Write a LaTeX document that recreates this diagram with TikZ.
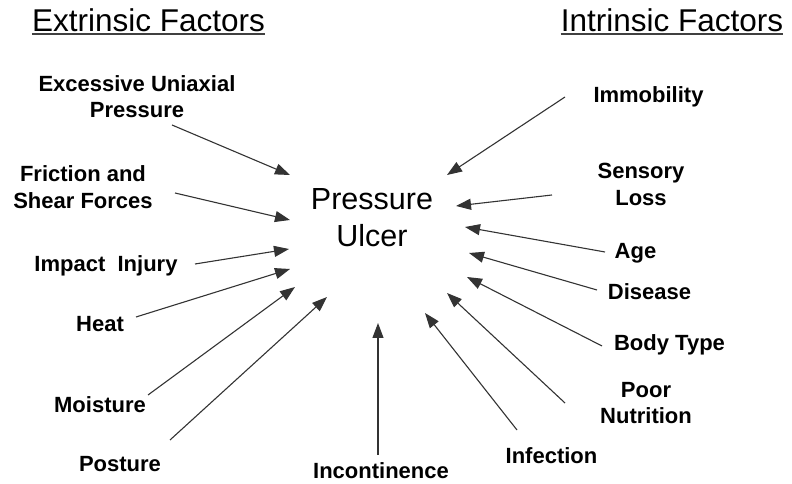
\documentclass[tikz,border=0pt]{standalone}
\usepackage{fontspec}
\setmainfont{Liberation Sans}
\usetikzlibrary{arrows.meta}

\tikzset{
	headline/.style={font=\fontsize{31.5}{36}\selectfont, inner sep=0pt},
	factor/.style={font=\fontsize{22}{26.5}\selectfont\bfseries, align=center, inner sep=0pt},
	ulcer/.style={font=\fontsize{30.5}{37}\selectfont, align=center, inner sep=0pt},
	cause/.style={-{Triangle[length=15pt,width=11pt]}, line width=1.1pt, black!80},
}

\begin{document}
\begin{tikzpicture}[x=1pt,y=1pt]
		\useasboundingbox (0,0) rectangle (792,484);
		%\draw[help lines,step=50] (0,0) grid (792,484);
		
		% the two headings
		\node[headline, anchor=base] (ext) at (148.5,452) {Extrinsic Factors};
		\node[headline, anchor=base] (intr) at (672,452) {Intrinsic Factors};
		\draw[line width=1.4pt, black!75] ([yshift=-2pt]ext.base west) -- ([yshift=-2pt]ext.base east);
		\draw[line width=1.4pt, black!75] ([yshift=-2pt]intr.base west) -- ([yshift=-2pt]intr.base east);
		
		% the centre
		\node[ulcer] (pu) at (372,266.5) {Pressure\\Ulcer};
		
		% extrinsic side
		\node[factor] (exc) at (137,387.5) {Excessive Uniaxial\\Pressure};
		\node[factor] (fric) at (83,297) {Friction and\\Shear Forces};
		\node[factor, anchor=base] (imp) at (106,212) {Impact\ \ Injury};
		\node[factor, anchor=base] (heat) at (100,152) {Heat};
		\node[factor, anchor=base] (mois) at (100,71) {Moisture};
		\node[factor, anchor=base] (post) at (120,12) {Posture};
		\node[factor, anchor=base] (inc) at (381,5) {Incontinence};
		
		% intrinsic side
		\node[factor, anchor=base] (infe) at (551.5,20) {Infection};
		\node[factor] (poor) at (646,81) {Poor\\Nutrition};
		\node[factor, anchor=base] (body) at (669.5,133) {Body Type};
		\node[factor, anchor=base] (dis) at (649.5,184) {Disease};
		\node[factor, anchor=base] (age) at (635.5,225) {Age};
		\node[factor] (sens) at (641,299.5) {Sensory\\Loss};
		\node[factor, anchor=base] (imm) at (648.5,381) {Immobility};
		
		% arrow tips round the ulcer
		\coordinate (t-exc) at (290,309);
		\coordinate (t-fric) at (290,264);
		\coordinate (t-imp) at (289,235);
		\coordinate (t-heat) at (290,215);
		\coordinate (t-mois) at (295,197);
		\coordinate (t-post) at (327,187);
		\coordinate (t-inc) at (378,161);
		\coordinate (t-infe) at (425,171);
		\coordinate (t-poor) at (447,191);
		\coordinate (t-body) at (467,207);
		\coordinate (t-dis) at (469,231);
		\coordinate (t-age) at (465,257);
		\coordinate (t-sens) at (456,278);
		\coordinate (t-imm) at (447,309);
		
		\draw[cause] ([xshift=35pt,yshift=-28.5pt]exc.center) -- (t-exc);
		\draw[cause] ([xshift=92pt,yshift=-6pt]fric.center) -- (t-fric);
		\draw[cause] ([xshift=89pt,yshift=8pt]imp.base) -- (t-imp);
		\draw[cause] ([xshift=36pt,yshift=15pt]heat.base) -- (t-heat);
		\draw[cause] ([xshift=48pt,yshift=18pt]mois.base) -- (t-mois);
		\draw[cause] ([xshift=50pt,yshift=32pt]post.base) -- (t-post);
		\draw[cause] ([xshift=-3pt,yshift=24pt]inc.base) -- (t-inc);
		\draw[cause] ([xshift=-34.5pt,yshift=34pt]infe.base) -- (t-infe);
		\draw[cause] ([xshift=-81pt]poor.center) -- (t-poor);
		\draw[cause] ([xshift=-67.5pt,yshift=5pt]body.base) -- (t-body);
		\draw[cause] ([xshift=-52.5pt,yshift=10pt]dis.base) -- (t-dis);
		\draw[cause] ([xshift=-30.5pt,yshift=7pt]age.base) -- (t-age);
		\draw[cause] ([xshift=-89pt,yshift=-10.5pt]sens.center) -- (t-sens);
		\draw[cause] ([xshift=-83.5pt,yshift=6pt]imm.base) -- (t-imm);
		
	\end{tikzpicture}
\end{document}
